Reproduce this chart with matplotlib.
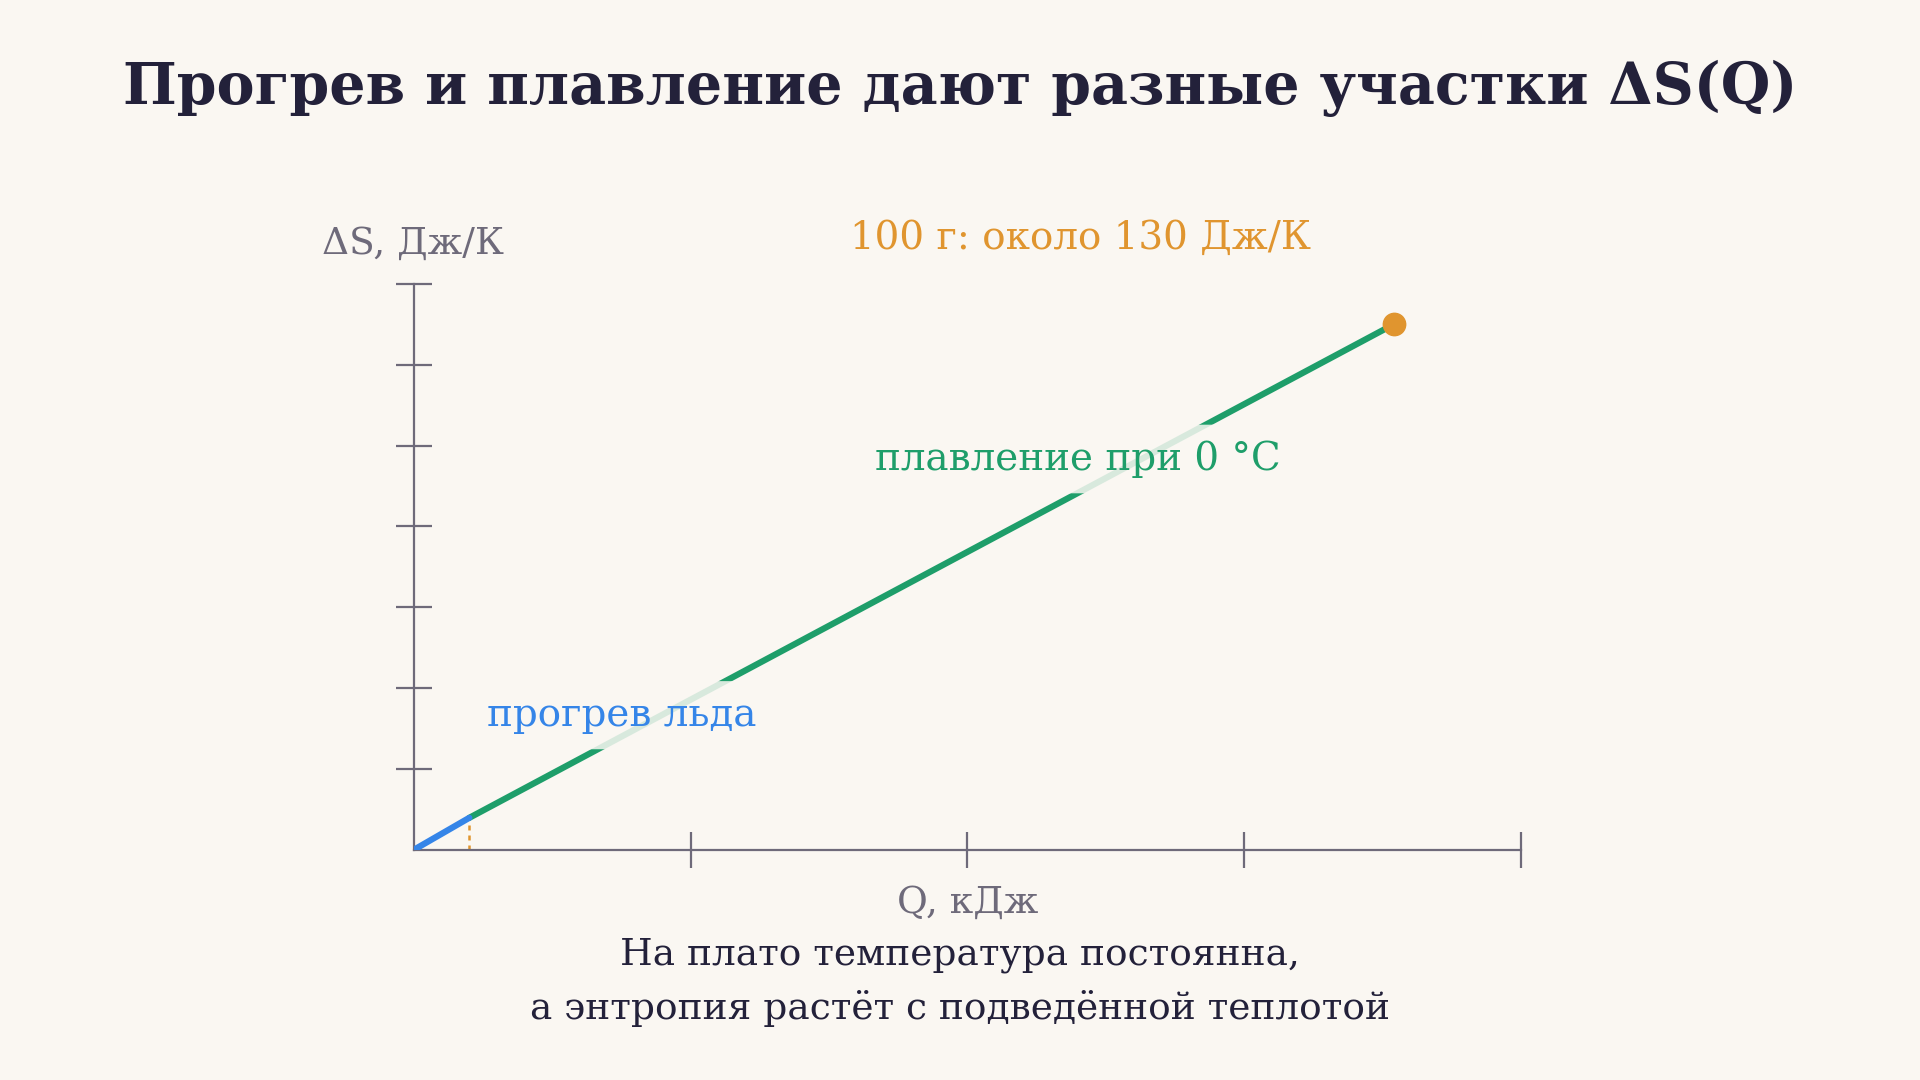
import matplotlib
matplotlib.use("Agg")
import matplotlib.pyplot as plt

heat_Q = [0.0, 2.0]
heat_S = [0.0, 7.9]
melt_Q = [2.0, 35.4]
melt_S = [7.9, 130.0]
x_ticks = [10, 20, 30, 40]
y_ticks = [20, 40, 60, 80, 100, 120, 140]

bg = "#FAF7F2"
gray = "#6E6A7A"
green = "#1E9E6A"
blue = "#3585E8"
orange = "#E0952F"
dark = "#23213A"
plt.rcParams['font.family'] = ['DejaVu Serif']

fig = plt.figure(figsize=(19.2, 10.8), dpi=100, facecolor=bg)
ax = fig.add_axes([0.2156, 0.2132, 0.5765, 0.5238])
ax.set_facecolor(bg)
ax.set_xlim(0, 40)
ax.set_ylim(0, 140)
for s in ["top", "right"]:
    ax.spines[s].set_visible(False)
for s in ["left", "bottom"]:
    ax.spines[s].set_color(gray)
    ax.spines[s].set_linewidth(1.6)
ax.set_xticks(x_ticks)
ax.set_yticks(y_ticks)
ax.set_xticklabels([])
ax.set_yticklabels([])
ax.tick_params(direction="inout", length=26, width=1.6, color=gray)

ax.plot(melt_Q, melt_S, color=green, lw=4.5, solid_capstyle="round", zorder=3)
ax.plot(heat_Q, heat_S, color=blue, lw=4.5, solid_capstyle="round", zorder=4)
ax.plot([heat_Q[1], heat_Q[1]], [0, heat_S[1]], color=orange, lw=1.8, ls=(0, (2, 2)), zorder=2)
ax.scatter([melt_Q[1]], [melt_S[1]], s=260, color=orange, zorder=5, clip_on=False)

bb = dict(facecolor=bg, edgecolor="none", alpha=0.85, boxstyle="round,pad=0.4")
ax.text(24.0, 96.7, "плавление при 0 °C", color=green, fontsize=28, ha="center", va="center", bbox=bb, zorder=6)
ax.text(7.5, 33.3, "прогрев льда", color=blue, fontsize=28, ha="center", va="center", bbox=bb, zorder=6)

fig.text(0.5, 0.918, "Прогрев и плавление дают разные участки ΔS(Q)", ha="center", va="center",
         fontsize=41, fontweight="bold", color=dark)
fig.text(0.563, 0.779, "100 г: около 130 Дж/К", ha="center", va="center", fontsize=28, color=orange)
fig.text(0.215, 0.774, "ΔS, Дж/К", ha="center", va="center", fontsize=27, color=gray)
fig.text(0.504, 0.164, "Q, кДж", ha="center", va="center", fontsize=27, color=gray)
fig.text(0.5, 0.116, "На плато температура постоянна,", ha="center", va="center", fontsize=27, color=dark)
fig.text(0.5, 0.066, "а энтропия растёт с подведённой теплотой", ha="center", va="center", fontsize=27, color=dark)

fig.savefig("out.png", dpi=100, facecolor=bg)
